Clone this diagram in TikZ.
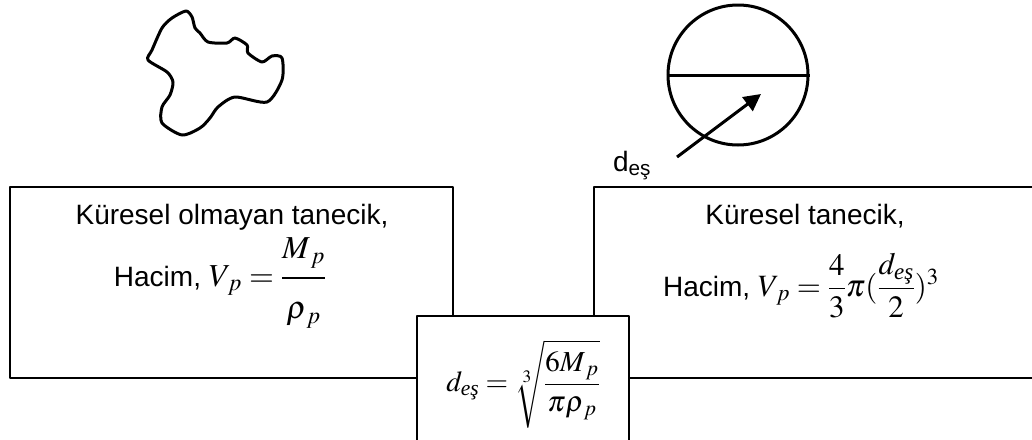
\documentclass[tikz,border=0pt]{standalone}
\usepackage{amsmath}
\usepackage{mathptmx}
\usepackage[no-math]{fontspec}
\setmainfont{Liberation Sans}
\newfontfamily\timesfont{Liberation Serif}
\usepackage{tikz}
\usetikzlibrary{arrows.meta}
\newcommand{\es}{\text{\timesfont\itshape eş}}
\newcommand{\mat}[2][32]{{\fontsize{#1}{38}\selectfont$#2$}}
\newcommand{\ust}{\rule[-15pt]{0pt}{0pt}}
\newcommand{\alt}{\rule{0pt}{36pt}}
\newcommand{\kutu}[4]{\draw[line width=1.5pt,fill=white] (#1,#2) rectangle (#3,#4);}

\begin{document}
\begin{tikzpicture}[x=1pt,y=-1pt,line join=round,
  kalin/.style={line width=3pt},
  yazi/.style={font=\fontsize{28}{32}\selectfont}]
\useasboundingbox (0,0) rectangle (1032,439);
\clip (0,0) rectangle (1032,439);
% ---- TANECIKLER ----
\draw[kalin] plot[smooth cycle,tension=0.45] coordinates {
  (186,11) (192,17) (195,28) (200,33) (208,42) (227,43) (235,38)
  (247,45) (248,53) (262,62) (272,56) (282,58) (282,80) (267,102)
  (235,97) (218,107) (210,118) (200,128) (182,135) (162,123)
  (162,107) (170,95) (173,82) (167,72) (148,60) (152,50) (162,28) (172,18)};
\node[draw,circle,kalin,minimum size=140pt,inner sep=0pt] (kure) at (738,75) {};
\draw[kalin] (kure.west) -- (kure.east);
\coordinate (ok1) at (677,157);
\coordinate (ok2) at (761,94);
\draw[kalin,-{Triangle[length=17pt,width=17pt]}] (ok1) -- (ok2);
\node[yazi,anchor=base] (cap) at (632,171) {d\textsubscript{eş}};
% ---- KUTULAR ----
\kutu{10}{187}{453}{378}
\kutu{594}{187}{1045}{378}
\kutu{417}{316}{629}{450}
\node[yazi,anchor=base] (sol1) at (232,224) {Küresel olmayan tanecik,};
\node[yazi,anchor=base] (sol2) at (220,286)
  {Hacim, \mat{V_{\,p}=\dfrac{M_{\,p}\ust}{\alt\rho_{\,p}}}};
\node[yazi,anchor=base] (sag1) at (805,224) {Küresel tanecik,};
\node[yazi,anchor=base] (sag2) at (801,296)
  {Hacim, \mat[31]{V_{\,p}=\dfrac{4}{3}\pi(\dfrac{d_{\es}}{2})^3}};
\node[yazi] (orta) at (523,384)
  {\mat[29]{d_{\es}=\sqrt[3]{\dfrac{6M_{\,p}}{\pi\rho_{\,p}}}}};
\end{tikzpicture}
\end{document}
